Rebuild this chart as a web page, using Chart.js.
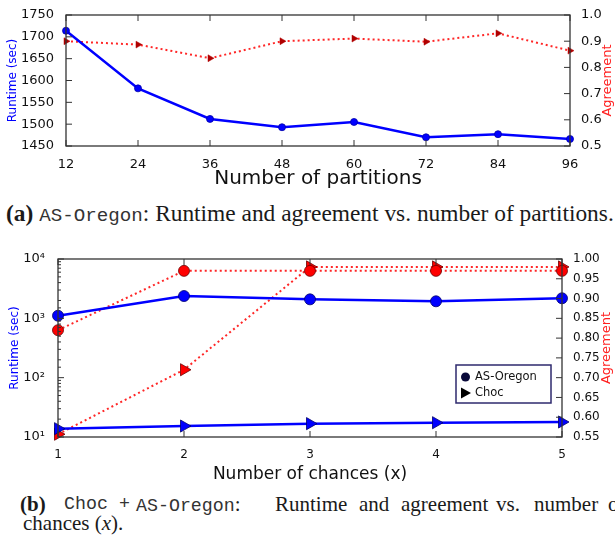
<!DOCTYPE html>
<html>
<head>
<meta charset="utf-8">
<script src="https://cdn.jsdelivr.net/npm/chart.js@4/dist/chart.umd.min.js"></script>
<style>
  html, body { margin: 0; padding: 0; background: #fff; }
  body { width: 615px; height: 540px; position: relative; overflow: hidden; }
  .wrap { position: absolute; left: 0; width: 615px; }
  .cap { position: absolute; font-family: "Liberation Serif", "Times New Roman", serif; color: #1a1a1a; white-space: nowrap; line-height: 1; }
  .cap b { font-weight: bold; }
  .mono { font-family: "Liberation Mono", "Courier New", monospace; color: #333; }
  .w { position: absolute; top: 0; }
</style>
</head>
<body>
<div class="wrap" style="top:0;height:192px"><canvas id="ca"></canvas></div>
<div class="cap" style="left:6px;top:202px;font-size:23.4px;"><b>(a)</b> <span class="mono" style="font-size:19.2px">AS-Oregon</span>: Runtime and agreement vs. number of partitions.</div>
<div class="wrap" style="top:240px;height:245px"><canvas id="cb"></canvas></div>
<div class="cap" style="left:0;top:494px;font-size:21px;width:615px;height:24px;">
  <span class="w" style="left:20px"><b>(b)</b></span>
  <span class="w mono" style="left:64px;font-size:18.3px;top:1px">Choc</span>
  <span class="w mono" style="left:119px;font-size:18.3px;top:1px">+</span>
  <span class="w" style="left:136px"><span class="mono" style="font-size:18.3px">AS-Oregon</span>:</span>
  <span class="w" style="left:275px">Runtime</span>
  <span class="w" style="left:359px">and</span>
  <span class="w" style="left:401px">agreement</span>
  <span class="w" style="left:496px">vs.</span>
  <span class="w" style="left:534px">number</span>
  <span class="w" style="left:608px">of</span>
</div>
<div class="cap" style="left:23px;top:513px;font-size:21px;">chances (<i>x</i>).</div>
<script>
// ---- (a) AS-Oregon: runtime and agreement vs. number of partitions ----
const partitions = [12, 24, 36, 48, 60, 72, 84, 96];
const runtimeA = [1714, 1582, 1512, 1493, 1505, 1470, 1477, 1466];
const agreementA = [0.900, 0.887, 0.835, 0.900, 0.910, 0.898, 0.930, 0.864];
const runtimeTicksA = [1450, 1500, 1550, 1600, 1650, 1700, 1750];
const agreementTicksA = [0.5, 0.6, 0.7, 0.8, 0.9, 1.0];

// ---- (b) Choc + AS-Oregon: runtime and agreement vs. number of chances ----
const chances = [1, 2, 3, 4, 5];
const runtimeOregon = [1107, 2377, 2089, 1937, 2178];
const runtimeChoc = [13.8, 15.3, 16.8, 17.4, 17.9];
const agreementOregon = [0.82, 0.97, 0.97, 0.97, 0.97];
const agreementChoc = [0.557, 0.72, 0.98, 0.98, 0.98];
const agreementTicksB = [0.55, 0.60, 0.65, 0.70, 0.75, 0.80, 0.85, 0.90, 0.95, 1.00];
const legendNames = ['AS-Oregon', 'Choc'];

const BLUE = '#0000ff';
const RED = 'rgba(255,0,0,0.85)';

function pts(xs, ys) { return xs.map((x, i) => ({ x: x, y: ys[i] })); }
function fixed(list) { return s => { s.ticks = list.map(v => ({ value: v })); }; }
function fixW(w) { return s => { s.width = w; }; }
function fixH(h) { return s => { s.height = h; }; }
const superDigits = { '0': '\u2070', '1': '\u00b9', '2': '\u00b2', '3': '\u00b3', '4': '\u2074', '5': '\u2075' };

// Plot frame, inward tick marks, vertical axis titles and an in-plot legend
const framePlugin = {
  id: 'frame',
  afterDatasetsDraw(chart, args, opts) {
    const { ctx, chartArea: a } = chart;
    ctx.save();
    ctx.strokeStyle = '#333';
    ctx.lineWidth = 1.3;
    ctx.strokeRect(a.left, a.top, a.right - a.left, a.bottom - a.top);
    ctx.lineWidth = 1;
    Object.values(chart.scales).forEach(s => {
      s.ticks.forEach(t => {
        const major = s.type !== 'logarithmic' || Math.abs(Math.log10(t.value) % 1) < 1e-9;
        const len = major ? 6 : 3;
        const p = s.getPixelForValue(t.value);
        ctx.beginPath();
        if (s.axis === 'x') {
          ctx.moveTo(p, a.bottom); ctx.lineTo(p, a.bottom - len);
          ctx.moveTo(p, a.top); ctx.lineTo(p, a.top + len);
        } else if (s.position === 'left') {
          ctx.moveTo(a.left, p); ctx.lineTo(a.left + len, p);
        } else {
          ctx.moveTo(a.right, p); ctx.lineTo(a.right - len, p);
        }
        ctx.stroke();
      });
    });
    // vertical axis titles, both reading bottom-to-top
    const midY = (a.top + a.bottom) / 2;
    (opts.titles || []).forEach(T => {
      ctx.save();
      ctx.translate(T.x, midY);
      ctx.rotate(-Math.PI / 2);
      ctx.font = T.size + 'px "DejaVu Sans"';
      ctx.fillStyle = T.color;
      ctx.textAlign = 'center';
      ctx.textBaseline = 'middle';
      ctx.fillText(T.text, 0, 0);
      ctx.restore();
    });
    if (opts.legend) {
      const L = opts.legend;
      const x = L.x, y = L.y;
      ctx.fillStyle = '#fff';
      ctx.fillRect(x, y, L.w, L.h);
      ctx.strokeStyle = '#2e2a6e';
      ctx.lineWidth = 1.5;
      ctx.strokeRect(x, y, L.w, L.h);
      ctx.font = '11.5px "DejaVu Sans"';
      ctx.textBaseline = 'middle';
      ctx.beginPath(); ctx.arc(x + 9.5, y + 12, 4.5, 0, Math.PI * 2);
      ctx.fillStyle = '#0a0a3a'; ctx.fill();
      ctx.fillStyle = '#111';
      ctx.fillText(legendNames[0], x + 19, y + 12.5);
      ctx.beginPath();
      ctx.moveTo(x + 5, y + 22.5); ctx.lineTo(x + 15, y + 28); ctx.lineTo(x + 5, y + 33.5);
      ctx.closePath(); ctx.fillStyle = '#000'; ctx.fill();
      ctx.fillStyle = '#111';
      ctx.fillText(legendNames[1], x + 19, y + 28.5);
    }
    ctx.restore();
  }
};

new Chart(document.getElementById('ca'), {
  type: 'line',
  data: {
    datasets: [
      { label: 'Runtime', data: pts(partitions, runtimeA), yAxisID: 'y', borderColor: BLUE, backgroundColor: BLUE,
        borderWidth: 2.5, pointRadius: 3.5, pointBorderColor: '#0000aa', pointBorderWidth: 0.8, tension: 0 },
      { label: 'Agreement', data: pts(partitions, agreementA), yAxisID: 'y2', borderColor: RED, backgroundColor: '#b00000',
        borderWidth: 2, borderDash: [2, 3], pointStyle: 'triangle', pointRotation: 90, pointRadius: 4,
        pointBorderColor: '#b00000', pointBorderWidth: 0.5, tension: 0 }
    ]
  },
  options: {
    responsive: true, maintainAspectRatio: false, animation: false,
    clip: false,
    layout: { padding: { top: 15, left: 0, right: 0, bottom: 0 } },
    plugins: { legend: { display: false }, tooltip: { enabled: false },
      frame: { titles: [
        { text: 'Runtime (sec)', x: 13, size: 12, color: BLUE },
        { text: 'Agreement', x: 608, size: 13, color: '#ff2020' } ] } },
    scales: {
      x: { type: 'linear', min: 12, max: 96, afterFit: fixH(46), afterBuildTicks: fixed(partitions),
        grid: { display: false }, border: { display: false },
        ticks: { font: { family: 'DejaVu Sans', size: 13 }, color: '#111', padding: 3, maxRotation: 0 },
        title: { display: true, text: 'Number of partitions', font: { family: 'DejaVu Sans', size: 20 }, color: '#111', padding: { top: 0, bottom: 1 } } },
      y: { position: 'left', min: 1450, max: 1750, afterFit: fixW(66), afterBuildTicks: fixed(runtimeTicksA),
        grid: { display: false }, border: { display: false },
        ticks: { font: { family: 'DejaVu Sans', size: 13 }, color: '#111', padding: 4, callback: v => String(v) } },
      y2: { position: 'right', min: 0.5, max: 1.0, afterFit: fixW(45), afterBuildTicks: fixed(agreementTicksA),
        grid: { display: false }, border: { display: false },
        ticks: { font: { family: 'DejaVu Sans', size: 13 }, color: '#111', padding: 3, callback: v => v.toFixed(1) } }
    }
  },
  plugins: [framePlugin]
});

new Chart(document.getElementById('cb'), {
  type: 'line',
  data: {
    datasets: [
      { label: 'AS-Oregon runtime', data: pts(chances, runtimeOregon), yAxisID: 'y', borderColor: BLUE, backgroundColor: BLUE,
        borderWidth: 2.5, pointRadius: 5.5, pointBorderColor: '#00006a', pointBorderWidth: 0.8, tension: 0 },
      { label: 'Choc runtime', data: pts(chances, runtimeChoc), yAxisID: 'y', borderColor: BLUE, backgroundColor: BLUE,
        borderWidth: 2.5, pointStyle: 'triangle', pointRotation: 90, pointRadius: 7, pointBorderColor: '#00006a', pointBorderWidth: 0.8, tension: 0 },
      { label: 'AS-Oregon agreement', data: pts(chances, agreementOregon), yAxisID: 'y2', borderColor: RED, backgroundColor: '#ff0000',
        borderWidth: 2, borderDash: [2, 3], pointRadius: 5.5, pointBorderColor: '#6a0000', pointBorderWidth: 0.8, tension: 0 },
      { label: 'Choc agreement', data: pts(chances, agreementChoc), yAxisID: 'y2', borderColor: RED, backgroundColor: '#ff0000',
        borderWidth: 2, borderDash: [2, 3], pointStyle: 'triangle', pointRotation: 90, pointRadius: 7, pointBorderColor: '#6a0000', pointBorderWidth: 0.8, tension: 0 }
    ]
  },
  options: {
    responsive: true, maintainAspectRatio: false, animation: false,
    clip: false,
    layout: { padding: { top: 19, left: 0, right: 0, bottom: 0 } },
    plugins: { legend: { display: false }, tooltip: { enabled: false },
      frame: {
        titles: [
          { text: 'Runtime (sec)', x: 15, size: 12, color: BLUE },
          { text: 'Agreement', x: 607, size: 13, color: '#ff2020' } ],
        legend: { x: 456, y: 125, w: 95, h: 38 } } },
    scales: {
      x: { type: 'linear', min: 1, max: 5, afterFit: fixH(48), afterBuildTicks: fixed(chances),
        grid: { display: false }, border: { display: false },
        ticks: { font: { family: 'DejaVu Sans', size: 12 }, color: '#111', padding: 3, maxRotation: 0 },
        title: { display: true, text: 'Number of chances (x)', font: { family: 'DejaVu Sans', size: 17 }, color: '#111', padding: { top: 0, bottom: 0 } } },
      y: { type: 'logarithmic', position: 'left', min: 10, max: 10000, afterFit: fixW(58),
        grid: { display: false }, border: { display: false },
        ticks: { font: { family: 'DejaVu Sans', size: 13 }, color: '#111', padding: 5, autoSkip: false,
          callback: v => {
            const e = Math.log10(v);
            if (Math.abs(e - Math.round(e)) > 1e-9) return '';
            return '10' + String(Math.round(e)).split('').map(d => superDigits[d]).join('');
          } } },
      y2: { position: 'right', min: 0.55, max: 1.0, afterFit: fixW(53), afterBuildTicks: fixed(agreementTicksB),
        grid: { display: false }, border: { display: false },
        ticks: { font: { family: 'DejaVu Sans', size: 12 }, color: '#111', padding: 3, callback: v => v.toFixed(2) } }
    }
  },
  plugins: [framePlugin]
});
</script>
</body>
</html>
